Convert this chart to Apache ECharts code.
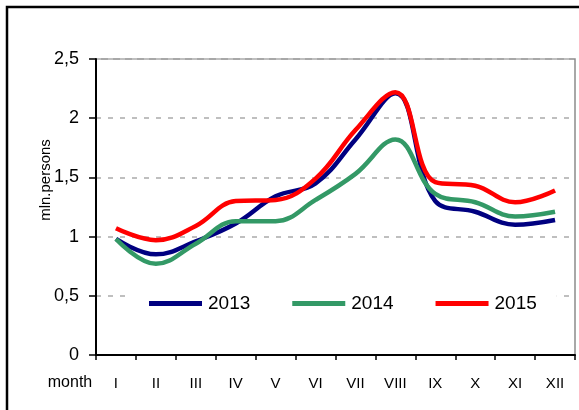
<!DOCTYPE html>
<html>
<head>
<meta charset="utf-8">
<script src="https://cdn.jsdelivr.net/npm/echarts@6/dist/echarts.min.js"></script>
<style>
  html, body { margin: 0; padding: 0; background: #fff; }
  #chart { width: 579px; height: 410px; }
</style>
</head>
<body>
<div id="chart"></div>
<script>
const months = ['I', 'II', 'III', 'IV', 'V', 'VI', 'VII', 'VIII', 'IX', 'X', 'XI', 'XII']
const flow2013 = [0.98, 0.85, 0.96, 1.11, 1.34, 1.45, 1.82, 2.21, 1.30, 1.21, 1.10, 1.14]
const flow2014 = [0.98, 0.77, 0.94, 1.13, 1.13, 1.31, 1.53, 1.82, 1.36, 1.29, 1.17, 1.21]
const flow2015 = [1.07, 0.97, 1.09, 1.30, 1.31, 1.49, 1.90, 2.22, 1.46, 1.43, 1.29, 1.39]
const yTicks = [0, 0.5, 1, 1.5, 2, 2.5]

const font = 'Liberation Sans'
const chart = echarts.init(document.getElementById('chart'))

function lineSeries(name, data, color) {
  return {
    name: name,
    type: 'line',
    data: data,
    smooth: 0.4,
    showSymbol: false,
    symbol: 'none',
    lineStyle: { color: color, width: 4.5 },
    itemStyle: { color: color }
  }
}

const option = {
  backgroundColor: '#fff',
  animation: false,
  grid: {
    left: 96,
    top: 59,
    right: 4,
    bottom: 55,
    show: true,
    borderColor: '#8c8c8c',
    borderWidth: 1.5,
    backgroundColor: 'transparent'
  },
  xAxis: {
    type: 'category',
    data: months,
    boundaryGap: true,
    axisLine: { lineStyle: { color: '#000', width: 2 } },
    axisTick: { show: true, length: 5, lineStyle: { color: '#000', width: 1.5 } },
    axisLabel: { color: '#000', fontFamily: font, fontSize: 15, margin: 21 },
    splitLine: { show: false }
  },
  yAxis: {
    type: 'value',
    min: yTicks[0],
    max: yTicks[yTicks.length - 1],
    interval: 0.5,
    axisLine: { show: true, lineStyle: { color: '#000', width: 2 } },
    axisTick: { show: true, length: 7, lineStyle: { color: '#000', width: 1.5 } },
    axisLabel: {
      color: '#000',
      fontFamily: font,
      fontSize: 18,
      margin: 17,
      formatter: v => String(v).replace('.', ',')
    },
    splitLine: { lineStyle: { color: '#bfbfbf', width: 2, type: [5, 7] } }
  },
  legend: {
    data: ['2013', '2014', '2015'],
    left: 125,
    top: 284,
    padding: [10, 20, 10, 24],
    backgroundColor: '#fff',
    icon: 'rect',
    itemWidth: 53,
    itemHeight: 5,
    itemGap: 42,
    textStyle: { color: '#000', fontFamily: font, fontSize: 19, padding: [0, 0, 0, 1] }
  },
  graphic: [
    {
      type: 'rect',
      shape: { x: 7, y: 7, width: 700, height: 500 },
      style: { fill: 'none', stroke: '#000', lineWidth: 2.5 },
      silent: true
    },
    {
      type: 'text',
      left: 120,
      top: -16,
      style: { text: 'Monthly dynamics of the flow of persons', fontFamily: 'Liberation Serif', fontWeight: 'bold', fontSize: 16, fill: '#000' }
    },
    {
      type: 'text',
      x: 46,
      y: 180,
      rotation: Math.PI / 2,
      style: { text: 'mln.persons', fontFamily: font, fontSize: 15, fill: '#000', align: 'center', verticalAlign: 'middle' }
    },
    {
      type: 'text',
      x: 70,
      y: 383,
      style: { text: 'month', fontFamily: font, fontSize: 16, fill: '#000', align: 'center', verticalAlign: 'middle' }
    }
  ],
  series: [
    lineSeries('2013', flow2013, '#000080'),
    lineSeries('2014', flow2014, '#339966'),
    lineSeries('2015', flow2015, '#ff0000')
  ]
}

chart.setOption(option)
window.addEventListener('resize', () => chart.resize())
</script>
</body>
</html>
